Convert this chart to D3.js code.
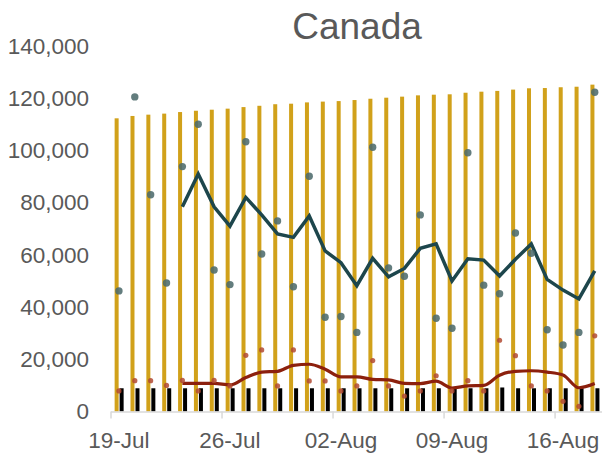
<!DOCTYPE html>
<html>
<head>
<meta charset="utf-8">
<script src="https://cdn.jsdelivr.net/npm/d3@7"></script>
<style>
    body { margin: 0; background: #fff; }
    svg { display: block; font-family: "Liberation Sans", Arial, sans-serif; }
</style>
</head>
<body>
<div id="chart"></div>
<script>
// Canada: daily values, rolling averages and totals, 19-Jul to 18-Aug

var dates = [
    "2020-07-19", "2020-07-20", "2020-07-21", "2020-07-22", "2020-07-23", "2020-07-24", "2020-07-25",
    "2020-07-26", "2020-07-27", "2020-07-28", "2020-07-29", "2020-07-30", "2020-07-31", "2020-08-01",
    "2020-08-02", "2020-08-03", "2020-08-04", "2020-08-05", "2020-08-06", "2020-08-07", "2020-08-08",
    "2020-08-09", "2020-08-10", "2020-08-11", "2020-08-12", "2020-08-13", "2020-08-14", "2020-08-15",
    "2020-08-16", "2020-08-17", "2020-08-18"
];

// gold bars
var totalBars = [
    112300, 113200, 113700, 114100, 114700, 115200, 115600, 116000, 116600, 117100,
    117700, 117900, 118400, 118700, 118900, 119300, 119800, 120200, 120600, 121100,
    121350, 121500, 122100, 122500, 122800, 123300, 123800, 123900, 124200, 124400,
    125200
];

// black bars
var smallBars = [
    8900, 8900, 8900, 8900, 8900, 8900, 8900, 8900, 8900, 8900,
    8900, 8900, 8900, 8900, 8900, 8900, 8900, 8900, 8900, 8900,
    8900, 8900, 8900, 8900, 9200, 8900, 8900, 8900, 8900, 8900,
    8900
];

// dark teal dots (daily)
var dailyA = [
    46200, 120500, 83000, 49200, 93800, 110000, 54200, 48600, 103300, 60300,
    73000, 47800, 90100, 36100, 36400, 30300, 101200, 55000, 51800, 75300,
    35700, 31900, 99100, 48400, 45100, 68400, 60600, 31300, 25500, 30300,
    122300
];

// dark teal line (average), starts on 23-Jul
var avgA = [
    null, null, null, null, 78400, 91000, 78400, 71000, 82000, 75300,
    68000, 66700, 74900, 61500, 57000, 48200, 58700, 51600, 54800, 62500,
    64200, 50000, 58500, 58000, 51900, 58300, 64200, 50600, 46500, 43100,
    53900
];

// red dots (daily)
var dailyB = [
    7900, 11800, 11800, 10000, 11900, 7900, 11900, 9800, 21500, 23600,
    9800, 23600, 11700, 11700, 7900, 9800, 19500, 9800, 5900, 7900,
    13700, 7900, 11800, 7900, 27300, 21400, 9800, 7900, 3900, 2000,
    29000
];

// red line (average)
var avgB = [
    null, null, null, null, 10800, 10800, 10800, 10200, 13000, 15100,
    15400, 17700, 18100, 16200, 13300, 13300, 12300, 12100, 10800, 10700,
    11600, 9000, 9800, 10000, 13900, 15400, 15600, 15100, 14000, 9100,
    10700
];

var yTicks = [0, 20000, 40000, 60000, 80000, 100000, 120000, 140000];
var xLabelDates = ["2020-07-19", "2020-07-26", "2020-08-02", "2020-08-09", "2020-08-16"];

var width = 602, height = 456;
var margin = { left: 111, right: 0, top: 46, bottom: 44.5 };

var parseDate = d3.timeParse("%Y-%m-%d");
var fmtDate = d3.timeFormat("%d-%b");

var svg = d3.select("#chart")
    .append("svg")
    .attr("width", width)
    .attr("height", height);

var x = d3.scaleBand()
    .domain(dates)
    .range([margin.left, margin.left + 15.86 * dates.length])
    .padding(0);

var y = d3.scaleLinear()
    .domain([0, 140000])
    .range([height - margin.bottom, margin.top]);

function cx(d) { return x(d) + x.bandwidth() / 2; }

// title
svg.append("text")
    .attr("x", 357)
    .attr("y", 38.5)
    .attr("text-anchor", "middle")
    .style("font-size", "37px")
    .style("fill", "#595959")
    .text("Canada");

// y axis labels
var yAxis = d3.axisLeft(y)
    .tickValues(yTicks)
    .tickSize(0)
    .tickPadding(0)
    .tickFormat(d3.format(","));

var yg = svg.append("g")
    .attr("transform", "translate(89,0)")
    .call(yAxis);
yg.select(".domain").remove();
yg.selectAll("text")
    .style("font-size", "22.5px")
    .style("fill", "#595959")
    .style("font-family", "'Liberation Sans', Arial, sans-serif");

// gold bars
svg.selectAll(".total")
    .data(dates)
    .enter()
    .append("rect")
    .attr("class", "total")
    .attr("x", function(d) { return cx(d) - 4.3; })
    .attr("width", 4)
    .attr("y", function(d, i) { return y(totalBars[i]); })
    .attr("height", function(d, i) { return y(0) - y(totalBars[i]); })
    .style("fill", "#d1a11a");

// black bars
svg.selectAll(".small")
    .data(dates)
    .enter()
    .append("rect")
    .attr("class", "small")
    .attr("x", function(d) { return cx(d) + 0.7; })
    .attr("width", 4)
    .attr("y", function(d, i) { return y(smallBars[i]); })
    .attr("height", function(d, i) { return y(0) - y(smallBars[i]); })
    .style("fill", "#000");

// x axis
var xAxisLine = svg.append("g");
xAxisLine.append("line")
    .attr("x1", margin.left)
    .attr("x2", width)
    .attr("y1", y(0) + 0.5)
    .attr("y2", y(0) + 0.5)
    .style("stroke", "#d9d9d9")
    .style("stroke-width", 1.5);

xAxisLine.selectAll(".xtick")
    .data(xLabelDates)
    .enter()
    .append("line")
    .attr("class", "xtick")
    .attr("x1", function(d) { return x(d); })
    .attr("x2", function(d) { return x(d); })
    .attr("y1", y(0))
    .attr("y2", y(0) + 7)
    .style("stroke", "#d9d9d9")
    .style("stroke-width", 1.5);

xAxisLine.selectAll(".xlabel")
    .data(xLabelDates)
    .enter()
    .append("text")
    .attr("class", "xlabel")
    .attr("x", function(d) { return cx(d); })
    .attr("y", 448)
    .attr("text-anchor", "middle")
    .style("font-size", "22.5px")
    .style("fill", "#595959")
    .text(function(d) { return fmtDate(parseDate(d)); });

// average lines
var lineA = d3.line()
    .defined(function(d) { return d.v != null; })
    .x(function(d) { return cx(d.date); })
    .y(function(d) { return y(d.v); });

var lineB = d3.line()
    .defined(function(d) { return d.v != null; })
    .curve(d3.curveMonotoneX)
    .x(function(d) { return cx(d.date); })
    .y(function(d) { return y(d.v); });

svg.append("path")
    .datum(dates.map(function(d, i) { return { date: d, v: avgB[i] }; }))
    .attr("d", lineB)
    .style("fill", "none")
    .style("stroke", "#8c200d")
    .style("stroke-width", 3.2)
    .style("stroke-linejoin", "round");

svg.append("path")
    .datum(dates.map(function(d, i) { return { date: d, v: avgA[i] }; }))
    .attr("d", lineA)
    .style("fill", "none")
    .style("stroke", "#1d464c")
    .style("stroke-width", 3.5)
    .style("stroke-linejoin", "miter");

// daily dots
svg.selectAll(".dotB")
    .data(dates)
    .enter()
    .append("circle")
    .attr("class", "dotB")
    .attr("cx", function(d) { return cx(d); })
    .attr("cy", function(d, i) { return y(dailyB[i]); })
    .attr("r", 2.6)
    .style("fill", "#b24a32")
    .style("opacity", 0.85);

svg.selectAll(".dotA")
    .data(dates)
    .enter()
    .append("circle")
    .attr("class", "dotA")
    .attr("cx", function(d) { return cx(d); })
    .attr("cy", function(d, i) { return y(dailyA[i]); })
    .attr("r", 3.7)
    .style("fill", "#4d6b6c")
    .style("opacity", 0.88);
</script>
</body>
</html>
